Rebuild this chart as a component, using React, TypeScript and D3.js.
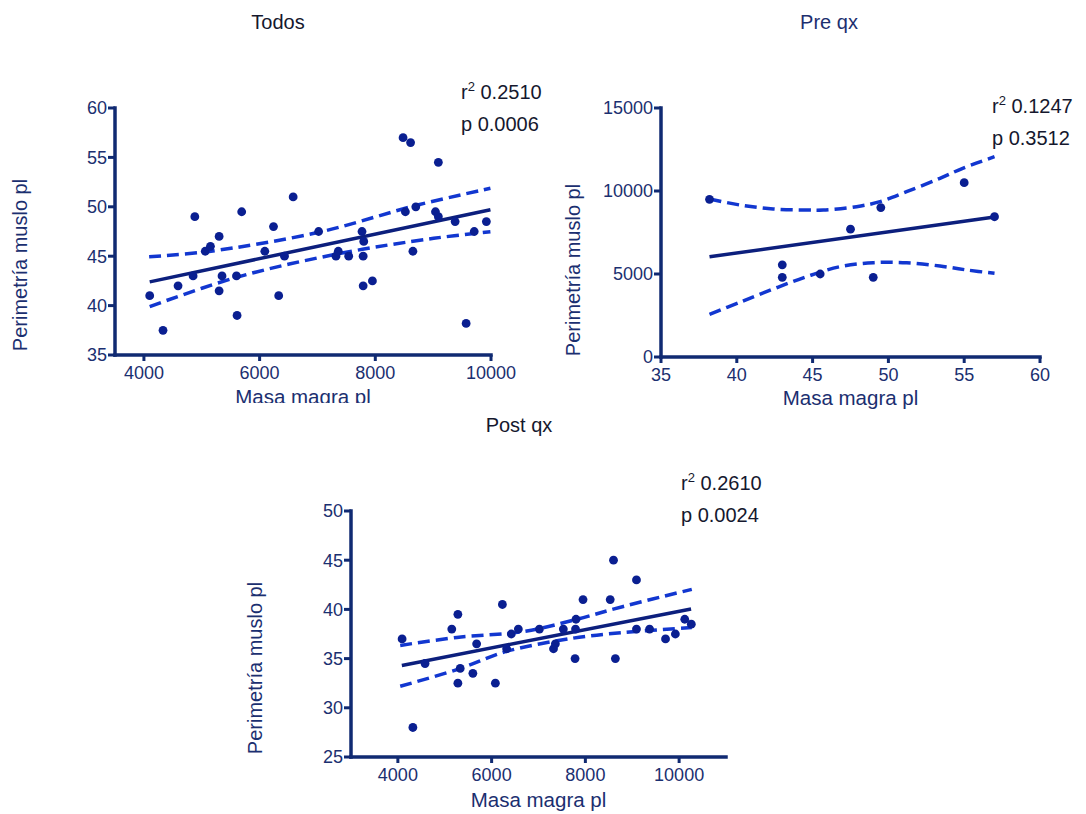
import React from "react";
import * as d3 from "d3";

// ---- Todos ----
const todosMasa = [4100, 4330, 4590, 4850, 4880, 5060, 5150, 5300, 5300, 5350, 5600, 5610, 5690, 6090, 6240, 6330, 6430, 6580, 7020, 7320, 7360, 7540, 7770, 7800, 7790, 7790, 7950, 8480, 8520, 8610, 8650, 8700, 9040, 9090, 9090, 9380, 9570, 9710, 9920];
const todosPerim = [41, 37.5, 42, 43, 49, 45.5, 46, 47, 41.5, 43, 43, 39, 49.5, 45.5, 48, 41, 45, 51, 47.5, 45, 45.5, 45, 47.5, 46.5, 45, 42, 42.5, 57, 49.5, 56.5, 45.5, 50, 49.5, 49, 54.5, 48.5, 38.2, 47.5, 48.5];
const todosFitX = [4100, 9990];
const todosFitY = [42.4, 49.7];
const todosUpperX = [4090, 5095, 7020, 8730, 9990];
const todosUpperY = [44.95, 45.46, 47.42, 50.18, 51.87];
const todosLowerX = [4100, 5600, 7400, 9010, 9990];
const todosLowerY = [39.9, 42.86, 45.29, 46.81, 47.48];

// ---- Pre qx ----
const preMasa = [38.2, 43.0, 43.0, 45.5, 47.5, 49.0, 49.5, 55.0, 57.0];
const prePerim = [9500, 5550, 4800, 5000, 7700, 4800, 9000, 10500, 8450];
const preFitX = [38.2, 57.0];
const preFitY = [6040, 8430];
const preUpperX = [38.2, 40.2, 42.4, 44.6, 45.7, 47.9, 49.45, 51.2, 53.4, 54.9, 57.0];
const preUpperY = [9518, 9157, 8916, 8855, 8855, 9056, 9357, 9960, 10763, 11365, 12066];
const preLowerX = [38.2, 40.2, 42.4, 44.6, 46.8, 49.0, 51.2, 53.4, 55.2, 57.0];
const preLowerY = [2570, 3293, 4096, 4839, 5440, 5681, 5681, 5480, 5240, 5040];

// ---- Post qx ----
const postMasa = [4090, 4320, 4580, 5150, 5280, 5280, 5330, 5600, 5680, 6080, 6230, 6320, 6420, 6570, 7020, 7320, 7360, 7530, 7780, 7790, 7800, 7950, 8530, 8600, 8640, 9090, 9090, 9370, 9710, 9920, 10120, 10260];
const postPerim = [37, 28, 34.5, 38, 39.5, 32.5, 34, 33.5, 36.5, 32.5, 40.5, 36, 37.5, 38, 38, 36, 36.5, 38, 35, 38, 39, 41, 41, 45, 35, 43, 38, 38, 37, 37.5, 39, 38.5];
const postFitX = [4085, 10255];
const postFitY = [34.3, 40.05];
const postUpperX = [4050, 5260, 6680, 7740, 8810, 10270];
const postUpperY = [36.34, 37.15, 37.75, 38.9, 40.3, 42.04];
const postLowerX = [4050, 5260, 6320, 7740, 8810, 10270];
const postLowerY = [32.19, 33.88, 35.73, 37.08, 37.65, 38.16];

const FONT = '"Liberation Sans", Arial, Helvetica, sans-serif';
const AXIS = "#102a72";
const TICK_TEXT = "#1b2f70";
const DOT = "#0a1f91";
const FIT = "#0c1f7d";
const CI = "#1237d0";
const DARK = "#15182e";

type PanelProps = {
  title: string;
  titleX: number;
  titleY: number;
  titleColor: string;
  xDomain: [number, number];
  yDomain: [number, number];
  xRange: [number, number];
  yRange: [number, number];
  xTicks: number[];
  yTicks: number[];
  xs: number[];
  ys: number[];
  fitX: number[];
  fitY: number[];
  upperX: number[];
  upperY: number[];
  lowerX: number[];
  lowerY: number[];
  r2: string;
  p: string;
  annX: number;
  annY: number;
  yLabelX: number;
  yLabelY: number;
  xLabelY: number;
  clipBottom?: number;
  id: string;
};

const Panel = (props: PanelProps) => {
  const {
    title, titleX, titleY, titleColor, xDomain, yDomain, xRange, yRange, xTicks, yTicks,
    xs, ys, fitX, fitY, upperX, upperY, lowerX, lowerY, r2, p, annX, annY,
    yLabelX, yLabelY, xLabelY, clipBottom, id,
  } = props;

  const x = d3.scaleLinear().domain(xDomain).range(xRange);
  const y = d3.scaleLinear().domain(yDomain).range(yRange);

  const curve = d3
    .line<[number, number]>()
    .x((d) => x(d[0]))
    .y((d) => y(d[1]))
    .curve(d3.curveCatmullRom);

  const straight = d3
    .line<[number, number]>()
    .x((d) => x(d[0]))
    .y((d) => y(d[1]));

  const x0 = xRange[0];
  const y0 = yRange[0];

  return (
    <g>
      {clipBottom !== undefined && (
        <defs>
          <clipPath id={id}>
            <rect x={0} y={0} width={1086} height={clipBottom} />
          </clipPath>
        </defs>
      )}

      <text x={titleX} y={titleY} textAnchor="middle" fontSize={20} fill={titleColor}>
        {title}
      </text>

      {/* confidence band */}
      <path d={curve(upperX.map((v, i) => [v, upperY[i]])) || ""} fill="none" stroke={CI} strokeWidth={3.5} strokeDasharray="12,6" />
      <path d={curve(lowerX.map((v, i) => [v, lowerY[i]])) || ""} fill="none" stroke={CI} strokeWidth={3.5} strokeDasharray="12,6" />

      {/* fit */}
      <path d={straight(fitX.map((v, i) => [v, fitY[i]])) || ""} fill="none" stroke={FIT} strokeWidth={3.5} />

      {/* points */}
      {xs.map((v, i) => (
        <circle key={i} cx={x(v)} cy={y(ys[i])} r={4.4} fill={DOT} />
      ))}

      {/* axes */}
      <line x1={x0} x2={x0} y1={yRange[1]} y2={y0} stroke={AXIS} strokeWidth={3.5} strokeLinecap="square" />
      <line x1={x0} x2={xRange[1]} y1={y0} y2={y0} stroke={AXIS} strokeWidth={3.5} strokeLinecap="square" />

      {yTicks.map((t) => (
        <g key={"y" + t}>
          <line x1={x0 - 7} x2={x0} y1={y(t)} y2={y(t)} stroke={AXIS} strokeWidth={3} />
          <text x={x0 - 8} y={y(t)} dy="0.36em" textAnchor="end" fontSize={18} fill={TICK_TEXT}>
            {t}
          </text>
        </g>
      ))}

      {xTicks.map((t) => (
        <g key={"x" + t}>
          <line x1={x(t)} x2={x(t)} y1={y0} y2={y0 + 6} stroke={AXIS} strokeWidth={3} />
          <text x={x(t)} y={y0 + 24} textAnchor="middle" fontSize={18} fill={TICK_TEXT}>
            {t}
          </text>
        </g>
      ))}

      <text
        transform={`translate(${yLabelX},${yLabelY}) rotate(-90)`}
        textAnchor="middle"
        dy="0.36em"
        fontSize={20}
        fill={TICK_TEXT}
      >
        Perimetría muslo pl
      </text>

      <g clipPath={clipBottom !== undefined ? `url(#${id})` : undefined}>
        <text x={(xRange[0] + xRange[1]) / 2} y={xLabelY} textAnchor="middle" fontSize={20.5} fill={TICK_TEXT}>
          Masa magra pl
        </text>
      </g>

      <text x={annX} y={annY} fontSize={20} fill={DARK}>
        r<tspan fontSize={13} dy={-8}>2</tspan>
        <tspan dy={8}> {r2}</tspan>
      </text>
      <text x={annX} y={annY + 32} fontSize={20} fill={DARK}>
        p {p}
      </text>
    </g>
  );
};

export default function App() {
  return (
    <div style={{ position: "absolute", left: 0, top: 0, background: "#fff" }}>
      <svg width={1086} height={814} style={{ display: "block", fontFamily: FONT }}>
        <rect width={1086} height={814} fill="#fff" />
        <Panel
          id="c1"
          title="Todos"
          titleX={278}
          titleY={29}
          titleColor={DARK}
          xDomain={[3500, 10000]}
          yDomain={[35, 60]}
          xRange={[115, 491]}
          yRange={[355, 108]}
          xTicks={[4000, 6000, 8000, 10000]}
          yTicks={[35, 40, 45, 50, 55, 60]}
          xs={todosMasa}
          ys={todosPerim}
          fitX={todosFitX}
          fitY={todosFitY}
          upperX={todosUpperX}
          upperY={todosUpperY}
          lowerX={todosLowerX}
          lowerY={todosLowerY}
          r2="0.2510"
          p="0.0006"
          annX={461}
          annY={99}
          yLabelX={20}
          yLabelY={265}
          xLabelY={404}
          clipBottom={403}
        />
        <Panel
          id="c2"
          title="Pre qx"
          titleX={829}
          titleY={29}
          titleColor="#1d2f6f"
          xDomain={[35, 60]}
          yDomain={[0, 15000]}
          xRange={[661, 1040]}
          yRange={[357, 108]}
          xTicks={[35, 40, 45, 50, 55, 60]}
          yTicks={[0, 5000, 10000, 15000]}
          xs={preMasa}
          ys={prePerim}
          fitX={preFitX}
          fitY={preFitY}
          upperX={preUpperX}
          upperY={preUpperY}
          lowerX={preLowerX}
          lowerY={preLowerY}
          r2="0.1247"
          p="0.3512"
          annX={992}
          annY={113}
          yLabelX={573}
          yLabelY={270}
          xLabelY={405}
        />
        <Panel
          id="c3"
          title="Post qx"
          titleX={519}
          titleY={432}
          titleColor={DARK}
          xDomain={[3000, 11000]}
          yDomain={[25, 50]}
          xRange={[351, 726]}
          yRange={[757, 511]}
          xTicks={[4000, 6000, 8000, 10000]}
          yTicks={[25, 30, 35, 40, 45, 50]}
          xs={postMasa}
          ys={postPerim}
          fitX={postFitX}
          fitY={postFitY}
          upperX={postUpperX}
          upperY={postUpperY}
          lowerX={postLowerX}
          lowerY={postLowerY}
          r2="0.2610"
          p="0.0024"
          annX={681}
          annY={490}
          yLabelX={255}
          yLabelY={668}
          xLabelY={807}
        />
      </svg>
    </div>
  );
}
